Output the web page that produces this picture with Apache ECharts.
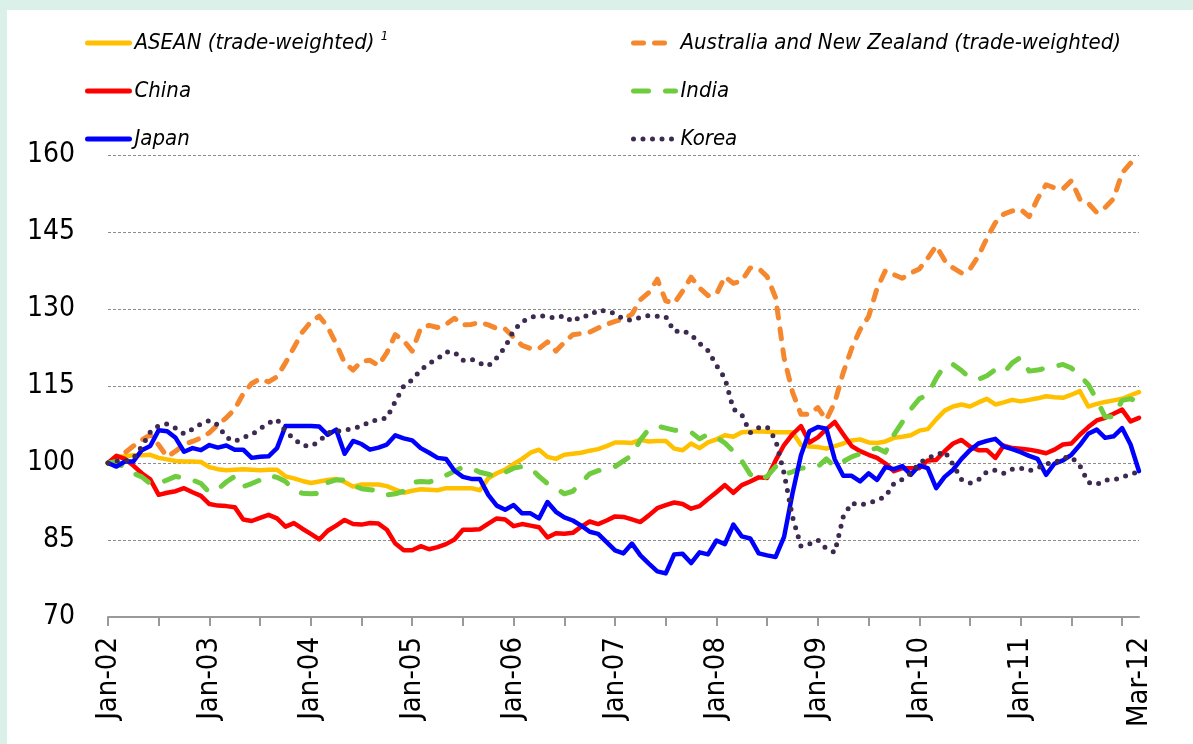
<!DOCTYPE html>
<html>
<head>
<meta charset="utf-8">
<script src="https://cdn.jsdelivr.net/npm/echarts@6/dist/echarts.min.js"></script>
<style>
  html, body { margin: 0; padding: 0; background: #DAF0E8; }
  #wrap { position: relative; width: 1193px; height: 744px; background: #DAF0E8; overflow: hidden; }
  #chart { position: absolute; left: 7px; top: 10px; width: 1186px; height: 734px; background: #ffffff; }
</style>
</head>
<body>
<div id="wrap"><div id="chart"></div></div>
<script>
// ---- Data (monthly, Jan-2002 .. Mar-2012, index Jan-2002 = 100) ----
const monthNames = ['Jan','Feb','Mar','Apr','May','Jun','Jul','Aug','Sep','Oct','Nov','Dec'];
const startYear = 2002;
const monthCount = 123;

const seriesNames = [
  'ASEAN (trade-weighted)',
  'Australia and New Zealand (trade-weighted)',
  'China',
  'India',
  'Japan',
  'Korea'
];

const asean = [100,101.2,101.3,101.5,101.5,101.6,101.0,100.7,100.4,100.3,100.3,100.2,
  99.2,98.8,98.6,98.7,98.8,98.7,98.6,98.7,98.7,97.4,97.0,96.5,
  96.1,96.4,96.7,96.9,96.3,95.4,95.8,95.8,95.8,95.5,94.8,94.2,
  94.6,94.9,94.8,94.7,95.1,95.1,95.1,95.1,94.7,97.0,98.0,98.7,
  99.8,100.8,102.0,102.6,101.2,100.8,101.6,101.8,102.0,102.4,102.7,103.3,
  104.0,104.0,103.9,104.5,104.2,104.3,104.3,102.8,102.5,103.8,102.9,104.0,
  104.6,105.4,105.1,106.0,106.1,106.2,106.1,106.0,106.0,106.0,103.5,103.2,
  103.1,102.8,103.3,103.8,104.4,104.6,104.0,103.9,104.2,104.9,105.1,105.4,
  106.3,106.6,108.5,110.2,111.0,111.4,111.0,111.8,112.5,111.4,111.8,112.3,
  112.0,112.3,112.6,113.0,112.8,112.7,113.3,114.0,111.0,111.5,111.9,112.2,
  112.5,113.2,113.8];

const anz = [100,101,102,103.3,104.5,105.5,103.5,101.2,102.3,103.6,104.2,104.9,
  105.9,107.5,108.8,110.5,113.5,115.5,116.4,115.8,116.8,119.5,122.5,125.5,
  127.5,128.6,126.5,123.2,119.5,118.1,119.8,120.0,119.0,121.5,125.0,123.8,
  121.8,126.3,126.8,126.4,127.0,128.2,126.9,127.0,127.4,126.9,126.2,126.1,
  124.5,122.9,122.3,122.3,123.6,121.8,123.5,125.0,125.2,125.5,126.3,127.0,
  127.6,128.0,129.0,131.8,133.2,135.8,131.6,131.1,133.5,136.2,134.1,132.6,
  132.9,136.3,135.0,135.5,138.0,137.9,136.3,132.2,120.5,113.8,109.5,109.5,
  110.8,108.4,111.8,117.6,122.3,126.0,128.5,134.0,137.5,136.7,136.0,137.0,
  137.8,139.9,142.3,139.5,138.0,137.0,137.8,140.3,143.8,146.8,148.5,149.1,
  149.4,148.0,151.5,154.2,153.6,153.4,155.0,151.4,150.6,148.8,149.8,151.5,
  156.5,158.4,157.0];

const china = [100,101.4,100.8,99.5,98.0,96.8,93.8,94.2,94.5,95.1,94.3,93.6,
  92.0,91.7,91.6,91.4,89.0,88.7,89.3,89.9,89.2,87.6,88.3,87.2,
  86.2,85.1,86.8,87.8,88.9,88.1,88.0,88.3,88.2,87.0,84.3,83.0,
  83.0,83.8,83.2,83.6,84.2,85.1,87.0,87.0,87.1,88.2,89.2,89.0,
  87.7,88.1,87.8,87.5,85.5,86.3,86.2,86.4,87.6,88.6,88.1,88.8,
  89.6,89.5,89.0,88.5,89.8,91.2,91.8,92.3,92.0,91.1,91.6,93.0,
  94.3,95.7,94.2,95.7,96.4,97.2,97.1,100.5,103.5,105.6,107.2,104.0,
  105.0,106.6,108.0,105.6,103.3,102.3,101.6,101.0,99.9,98.4,99.0,99.0,
  99.0,100.5,100.6,102.3,103.8,104.5,103.2,102.5,102.5,101.0,103.4,102.9,
  102.8,102.6,102.3,101.9,102.6,103.6,103.8,105.5,107.0,108.3,108.8,109.6,
  110.4,108.1,108.8];

const india = [100,100.3,99.0,98.0,97.3,96.0,96.0,96.7,97.4,97.0,96.7,96.0,
  94.3,94.9,96.3,97.4,95.4,96.0,96.7,97.6,97.2,96.4,94.8,94.1,
  94.0,94.1,96.2,96.7,96.7,95.6,95.0,94.8,94.6,93.8,94.0,94.5,
  96.2,96.4,96.3,96.8,97.6,98.4,99.2,99.0,98.2,97.8,97.4,98.2,
  99.0,99.3,99.0,97.4,96.0,95.1,94.0,94.5,96.2,97.9,98.5,99.0,
  99.3,100.4,101.5,104.5,106.6,107.2,106.8,106.4,106.2,106.0,104.7,105.6,
  105.0,103.9,102.3,100.4,97.8,96.7,97.4,99.3,97.7,98.3,99.0,99.1,
  99.3,100.8,99.3,100.3,101.2,101.8,102.5,102.9,102.1,105.5,108.0,110.5,
  112.5,113.3,116.5,119.0,119.2,118.0,116.6,116.3,117.0,118.2,117.6,119.5,
  120.6,117.9,118.1,118.5,118.8,119.2,118.5,117.0,115.3,112.3,109.0,109.0,
  112.2,112.5,111.8];

const japan = [100,99.3,100.3,100.3,102.5,103.3,106.4,106.2,104.9,102.2,102.9,102.5,
  103.5,103.0,103.4,102.6,102.6,101.0,101.2,101.3,102.9,107.2,107.2,107.2,
  107.2,107.1,105.5,106.5,101.8,104.3,103.7,102.6,103.0,103.6,105.4,104.8,
  104.4,102.9,102.0,101.0,100.8,98.5,97.3,96.9,96.9,93.8,91.7,90.9,
  91.8,90.2,90.2,89.2,92.4,90.5,89.4,88.8,87.8,86.6,86.2,84.6,
  83.0,82.4,84.3,82.0,80.4,78.9,78.5,82.2,82.3,80.5,82.6,82.2,
  84.9,84.2,88.0,85.7,85.3,82.4,82.0,81.7,85.6,94.1,101.5,106.2,
  107.0,106.7,100.7,97.5,97.5,96.4,98.0,96.7,99.2,98.8,99.4,97.7,
  99.5,99.0,95.1,97.3,98.7,100.8,102.5,103.8,104.3,104.7,103.2,102.7,
  102.1,101.4,100.8,97.7,99.9,100.5,101.6,103.5,105.7,106.5,104.9,105.2,
  106.8,103.6,98.4];

const korea = [100,100.4,100.4,100.9,103.2,106.0,107.3,107.6,106.8,105.7,106.6,107.6,
  108.3,107.4,105.0,104.2,105.0,105.5,106.7,107.8,108.5,106.2,104.7,103.4,
  103.3,104.2,105.9,106.2,106.3,106.8,107.1,108.1,108.4,108.8,112.0,115.0,
  116.2,118.1,119.4,120.3,121.6,121.6,120.0,120.2,119.4,118.9,120.5,122.6,
  125.8,127.5,128.4,128.7,128.5,128.2,128.7,127.5,128.6,128.7,129.8,129.6,
  129.1,128.0,127.8,128.4,128.7,128.6,128.5,125.6,125.8,125.0,123.3,121.9,
  119.0,116.5,110.5,109.4,105.9,106.9,107.0,104.5,98.0,89.5,83.8,84.2,
  85.0,83.3,82.6,89.5,92.2,91.8,92.2,92.7,93.5,96.0,96.8,98.0,
  100.0,101.0,101.5,102.3,99.7,96.8,96.1,96.7,98.3,98.6,98.0,98.8,
  99.0,98.5,99.0,99.9,100.0,101.0,101.2,99.5,96.2,95.8,96.7,96.7,
  97.2,97.8,98.3];

const yTicks = { min: 70, max: 160, interval: 15 };

// ---- Build categories ----
const categories = [];
for (let i = 0; i < monthCount; i++) {
  const y = startYear + Math.floor(i / 12);
  categories.push(monthNames[i % 12] + '-' + String(y % 100).padStart(2, '0'));
}

const FONT = "'DejaVu Sans Condensed', 'Liberation Sans Narrow', sans-serif";

const colors = {
  asean: '#FFC000',
  anz: '#F5882E',
  china: '#FF0000',
  india: '#6ECC3E',
  japan: '#0000FF',
  korea: '#3E2A50'
};

function mkSeries(name, data, color, lineStyle) {
  return {
    name: name,
    type: 'line',
    data: data,
    symbol: 'none',
    smooth: false,
    color: color,
    lineStyle: Object.assign({ color: color, width: 4.5, cap: 'round', join: 'round' }, lineStyle || {}),
    emphasis: { disabled: true },
    animation: false
  };
}

const chart = echarts.init(document.getElementById('chart'), null, { renderer: 'canvas' });

const legendText = {
  fontFamily: FONT,
  fontStyle: 'italic',
  fontSize: 22,
  color: '#000',
  lineHeight: 28,
  rich: {
    sup: { fontFamily: FONT, fontStyle: 'italic', fontSize: 13, color: '#000', padding: [0, 0, 12, 0] }
  }
};

const legendCommon = {
  orient: 'vertical',
  itemWidth: 42,
  itemHeight: 14,
  itemGap: 20,
  textStyle: legendText,
  selectedMode: false,
  itemStyle: { opacity: 0 },
  lineStyle: { width: 5, cap: 'round' },
  formatter: function (n) {
    if (n === seriesNames[0]) return n + ' {sup|1}';
    return n;
  }
};

chart.setOption({
  animation: false,
  backgroundColor: '#ffffff',
  grid: { left: 101, right: 54, top: 145, bottom: 127, containLabel: false },
  legend: [
    Object.assign({}, legendCommon, { left: 73, top: 14, data: [seriesNames[0], seriesNames[2], seriesNames[4]] }),
    Object.assign({}, legendCommon, { left: 619, top: 14, data: [seriesNames[1], seriesNames[3], seriesNames[5]] })
  ],
  xAxis: {
    type: 'category',
    data: categories,
    boundaryGap: false,
    axisLine: { show: true, lineStyle: { color: '#9A9A9A', width: 2 } },
    axisTick: {
      show: true, length: 9, lineStyle: { color: '#9A9A9A', width: 2 },
      interval: function (idx) { return idx % 6 === 0; }
    },
    axisLabel: {
      rotate: 90,
      margin: 20,
      fontFamily: FONT,
      fontSize: 29,
      color: '#000',
      interval: function (idx) { return (idx % 12 === 0 && idx < 120) || idx === monthCount - 1; }
    },
    splitLine: { show: false }
  },
  yAxis: {
    type: 'value',
    min: yTicks.min,
    max: yTicks.max,
    interval: yTicks.interval,
    axisLine: { show: false },
    axisTick: { show: false },
    axisLabel: { fontFamily: FONT, fontSize: 28, color: '#000', margin: 33 },
    splitLine: { show: true, lineStyle: { color: '#8C8C8C', width: 1, type: [3, 2] } }
  },
  series: [
    mkSeries(seriesNames[0], asean, colors.asean),
    mkSeries(seriesNames[1], anz, colors.anz, { width: 5, type: [10, 11], cap: 'round' }),
    mkSeries(seriesNames[2], china, colors.china),
    mkSeries(seriesNames[3], india, colors.india, { width: 5, type: [15, 17], cap: 'round' }),
    mkSeries(seriesNames[4], japan, colors.japan),
    mkSeries(seriesNames[5], korea, colors.korea, { width: 5, type: [0, 9.5], cap: 'round' })
  ]
});
</script>
</body>
</html>
